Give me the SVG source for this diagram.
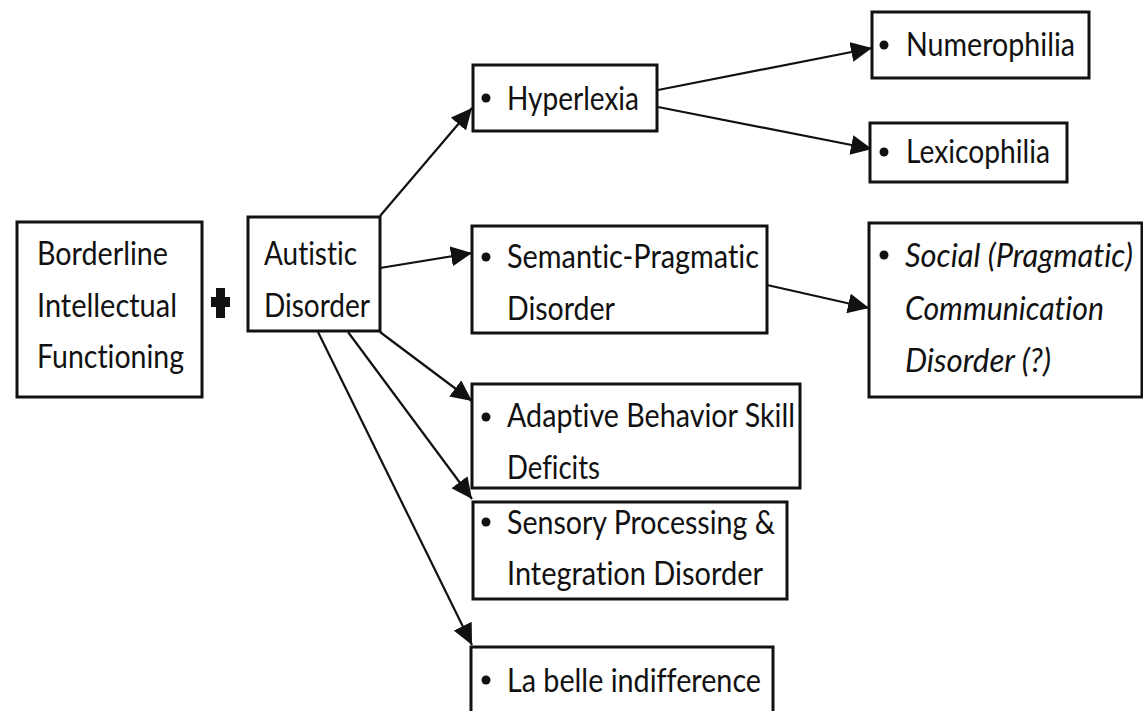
<svg xmlns="http://www.w3.org/2000/svg" width="1143" height="711" viewBox="0 0 1143 711">
<style>
.box{fill:#fff;stroke:#111;stroke-width:3}
.t{font-family:Lato,"Liberation Sans",sans-serif;font-size:32px;fill:#111;font-variant-ligatures:none}
.i{font-style:italic}
.b{fill:#111}
.c{stroke:#111;stroke-width:2.2;fill:none}
</style>
<defs>
<marker id="ah" markerUnits="userSpaceOnUse" markerWidth="22" markerHeight="20" refX="21" refY="10" orient="auto">
<path d="M0,0 L21,10 L0,20 Z" fill="#111"/>
</marker>
</defs>
<g id="connectors">
<line class="c" x1="380" y1="216" x2="472" y2="108" marker-end="url(#ah)"/>
<line class="c" x1="380" y1="268" x2="472" y2="253" marker-end="url(#ah)"/>
<line class="c" x1="380" y1="332" x2="472" y2="401" marker-end="url(#ah)"/>
<line class="c" x1="348" y1="332" x2="472" y2="499" marker-end="url(#ah)"/>
<line class="c" x1="318" y1="332" x2="472" y2="645" marker-end="url(#ah)"/>
<line class="c" x1="658" y1="90" x2="872" y2="48" marker-end="url(#ah)"/>
<line class="c" x1="658" y1="107" x2="872" y2="149" marker-end="url(#ah)"/>
<line class="c" x1="767" y1="285" x2="869" y2="308" marker-end="url(#ah)"/>
</g>
<g id="borderline">
<rect class="box" x="17" y="222" width="185" height="175"/>
<text class="t" x="37" y="265" textLength="131" lengthAdjust="spacingAndGlyphs">Borderline</text>
<text class="t" x="37" y="317" textLength="140" lengthAdjust="spacingAndGlyphs">Intellectual</text>
<text class="t" x="37" y="368" textLength="147" lengthAdjust="spacingAndGlyphs">Functioning</text>
</g>
<g id="plus">
<path class="b" d="M216,288 H225 V297 H230 V307 H225 V318 H216 V307 H211 V297 H216 Z"/>
</g>
<g id="autistic">
<rect class="box" x="248" y="217" width="132" height="114"/>
<text class="t" x="264" y="265" textLength="93" lengthAdjust="spacingAndGlyphs">Autistic</text>
<text class="t" x="264" y="317" textLength="106" lengthAdjust="spacingAndGlyphs">Disorder</text>
</g>
<g id="hyperlexia">
<rect class="box" x="473" y="65" width="184" height="66"/>
<circle class="b" cx="486" cy="98" r="4.5"/>
<text class="t" x="507" y="110" textLength="132" lengthAdjust="spacingAndGlyphs">Hyperlexia</text>
</g>
<g id="numerophilia">
<rect class="box" x="872" y="12" width="217" height="66"/>
<circle class="b" cx="884" cy="45" r="4.5"/>
<text class="t" x="906" y="56" textLength="169" lengthAdjust="spacingAndGlyphs">Numerophilia</text>
</g>
<g id="lexicophilia">
<rect class="box" x="870" y="123" width="197" height="59"/>
<circle class="b" cx="884" cy="152" r="4.5"/>
<text class="t" x="906" y="163" textLength="144" lengthAdjust="spacingAndGlyphs">Lexicophilia</text>
</g>
<g id="semantic">
<rect class="box" x="472" y="226" width="295" height="107"/>
<circle class="b" cx="486" cy="257" r="4.5"/>
<text class="t" x="507" y="268" textLength="252" lengthAdjust="spacingAndGlyphs">Semantic-Pragmatic</text>
<text class="t" x="507" y="320" textLength="108" lengthAdjust="spacingAndGlyphs">Disorder</text>
</g>
<g id="social">
<rect class="box" x="869" y="223" width="273" height="174"/>
<circle class="b" cx="884" cy="255" r="4.5"/>
<text class="t i" x="905" y="267" textLength="228" lengthAdjust="spacingAndGlyphs">Social (Pragmatic)</text>
<text class="t i" x="905" y="320" textLength="199" lengthAdjust="spacingAndGlyphs">Communication</text>
<text class="t i" x="905" y="372" textLength="146" lengthAdjust="spacingAndGlyphs">Disorder (?)</text>
</g>
<g id="adaptive">
<rect class="box" x="472" y="384" width="328" height="104"/>
<circle class="b" cx="486" cy="417" r="4.5"/>
<text class="t" x="507" y="427" textLength="288" lengthAdjust="spacingAndGlyphs">Adaptive Behavior Skill</text>
<text class="t" x="507" y="479" textLength="93" lengthAdjust="spacingAndGlyphs">Deficits</text>
</g>
<g id="sensory">
<rect class="box" x="473" y="502" width="314" height="97"/>
<circle class="b" cx="486" cy="522" r="4.5"/>
<text class="t" x="507" y="534" textLength="268" lengthAdjust="spacingAndGlyphs">Sensory Processing &amp;</text>
<text class="t" x="507" y="585" textLength="256" lengthAdjust="spacingAndGlyphs">Integration Disorder</text>
</g>
<g id="labelle">
<rect class="box" x="471" y="647" width="302" height="70"/>
<circle class="b" cx="486" cy="680" r="4.5"/>
<text class="t" x="507" y="692" textLength="254" lengthAdjust="spacingAndGlyphs">La belle indifference</text>
</g>
</svg>
